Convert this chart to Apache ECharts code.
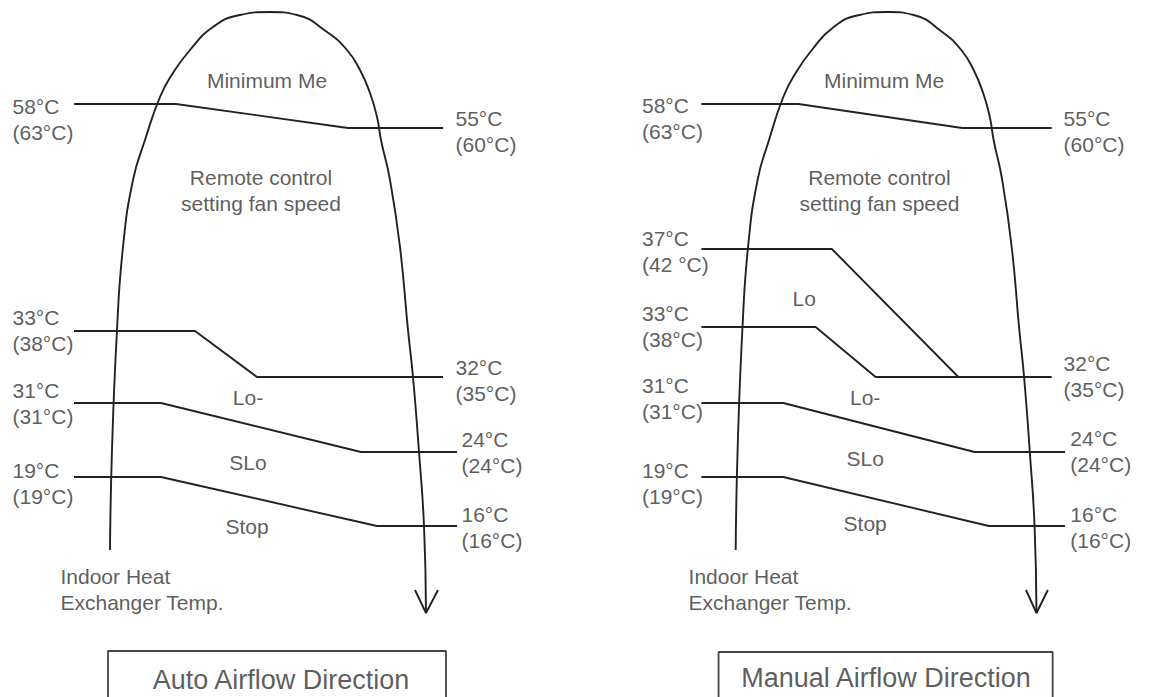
<!DOCTYPE html>
<html>
<head>
<meta charset="utf-8">
<title>Indoor fan speed control</title>
<script src="https://cdn.jsdelivr.net/npm/echarts@6/dist/echarts.min.js"></script>
<style>
    html, body { margin: 0; padding: 0; background: #fff; }
    #main { width: 1164px; height: 697px; }
</style>
</head>
<body>
<div id="main"></div>
<script>
'use strict';

// 热交换器温度曲线 (both panels use the same outline)
var domePath = [
    [110, 550], [112, 450], [117, 330], [123, 247], [133, 180], [145, 140],
    [160, 97], [173, 73], [190, 50], [213, 27], [240, 15], [270, 12],
    [297, 15], [327, 32], [347, 50], [360, 70], [370, 93], [377, 117],
    [381, 140], [390, 180], [400, 247], [408, 330], [413, 377], [419, 452],
    [424, 526], [426, 613]
];
var arrowHead = [[415, 590], [426, 613], [438, 590]];

// Auto airflow direction
var autoLines = [
    [[74, 104], [176, 104], [348, 128], [443, 128]],
    [[74, 331], [195, 331], [257, 377], [443, 377]],
    [[74, 403], [161, 403], [361, 452], [457, 452]],
    [[74, 477], [161, 477], [377, 526], [457, 526]]
];
var autoLeftTemps = ['58°C\n(63°C)', '33°C\n(38°C)', '31°C\n(31°C)', '19°C\n(19°C)'];
var autoLeftPos = [[12, 119], [12, 330], [12, 403], [12, 483]];
var autoRightTemps = ['55°C\n(60°C)', '32°C\n(35°C)', '24°C\n(24°C)', '16°C\n(16°C)'];
var autoRightPos = [[455, 131], [455, 380], [461, 452], [461, 527]];
var autoZones = ['Minimum Me', 'Remote control\nsetting fan speed', 'Lo-', 'SLo', 'Stop'];
var autoZonePos = [[267, 80], [261, 190], [248, 397], [248, 462], [247, 526]];
var autoBox = [[108, 720], [108, 651], [446, 651], [446, 720]];
var autoTitle = ['Auto Airflow Direction', 281, 680];

// Manual airflow direction
var manualLines = [
    [[74, 104], [176, 104], [348, 128], [442, 128]],
    [[74, 249], [211, 249], [344, 377]],
    [[74, 327], [194, 327], [257, 377], [442, 377]],
    [[74, 403], [160, 403], [361, 452], [456, 452]],
    [[74, 477], [160, 477], [376, 526], [456, 526]]
];
var manualLeftTemps = ['58°C\n(63°C)', '37°C\n(42 °C)', '33°C\n(38°C)', '31°C\n(31°C)', '19°C\n(19°C)'];
var manualLeftPos = [[11, 118], [11, 251], [11, 326], [11, 398], [11, 483]];
var manualRightTemps = ['55°C\n(60°C)', '32°C\n(35°C)', '24°C\n(24°C)', '16°C\n(16°C)'];
var manualRightPos = [[454, 131], [454, 376], [461, 451], [461, 527]];
var manualZones = ['Minimum Me', 'Remote control\nsetting fan speed', 'Lo', 'Lo-', 'SLo', 'Stop'];
var manualZonePos = [[266, 80], [261, 190], [182, 298], [246, 397], [246, 458], [246, 523]];
var manualBox = [[92, 720], [92, 652], [443, 652], [443, 720]];
var manualTitle = ['Manual Airflow Direction', 268, 678];

var axisLabel = 'Indoor Heat\nExchanger Temp.';
var axisLabelPos = [60, 589];

var lineColor = '#222';
var textColor = '#333';
var fontFamily = '"Liberation Sans", Arial, Helvetica, sans-serif';

var plainLine = function (grid, points, width, color) {
    return {
        type: 'line',
        xAxisIndex: grid,
        yAxisIndex: grid,
        data: points,
        symbol: 'none',
        silent: true,
        clip: false,
        lineStyle: { color: color || lineColor, width: width || 1.9 },
        z: 2
    };
};

var textSeries = function (grid, texts, pos, position, size) {
    return {
        type: 'scatter',
        xAxisIndex: grid,
        yAxisIndex: grid,
        symbolSize: 1,
        silent: true,
        clip: false,
        itemStyle: { color: 'rgba(0,0,0,0)' },
        data: texts.map(function (t, i) {
            return [pos[i][0], pos[i][1], t];
        }),
        label: {
            show: true,
            position: position,
            distance: 0,
            formatter: function (p) { return p.data[2]; },
            color: textColor,
            fontFamily: fontFamily,
            fontSize: size || 21,
            lineHeight: size ? size + 6 : 26
        },
        z: 3
    };
};

var buildPanel = function (grid, lines, leftTemps, leftPos, rightTemps, rightPos, zones, zonePos, box, title) {
    var list = [];
    list.push(Object.assign(plainLine(grid, domePath), { smooth: 0.5 }));
    list.push(plainLine(grid, arrowHead));
    lines.forEach(function (l) {
        list.push(plainLine(grid, l));
    });
    list.push(plainLine(grid, box, 1.8, '#444'));
    list.push(textSeries(grid, leftTemps, leftPos, 'right'));
    list.push(textSeries(grid, rightTemps, rightPos, 'right'));
    list.push(textSeries(grid, zones, zonePos, 'inside'));
    list.push(textSeries(grid, [axisLabel], [axisLabelPos], 'right'));
    list.push(textSeries(grid, [title[0]], [[title[1], title[2]]], 'inside', 27));
    return list;
};

var chart = echarts.init(document.getElementById('main'), null, { renderer: 'svg' });

var hiddenX = { type: 'value', min: 0, max: 560, show: false };
var hiddenY = { type: 'value', min: 0, max: 697, inverse: true, show: false };

var option = {
    backgroundColor: '#fff',
    animation: false,
    grid: [
        { left: 0, top: 0, width: 560, height: 697 },
        { left: 631, top: 0, width: 560, height: 697 }
    ],
    xAxis: [
        Object.assign({ gridIndex: 0 }, hiddenX),
        Object.assign({ gridIndex: 1 }, hiddenX)
    ],
    yAxis: [
        Object.assign({ gridIndex: 0 }, hiddenY),
        Object.assign({ gridIndex: 1 }, hiddenY)
    ],
    series: [].concat(
        buildPanel(0, autoLines, autoLeftTemps, autoLeftPos, autoRightTemps, autoRightPos,
            autoZones, autoZonePos, autoBox, autoTitle),
        buildPanel(1, manualLines, manualLeftTemps, manualLeftPos, manualRightTemps, manualRightPos,
            manualZones, manualZonePos, manualBox, manualTitle)
    )
};

chart.setOption(option);
</script>
</body>
</html>
